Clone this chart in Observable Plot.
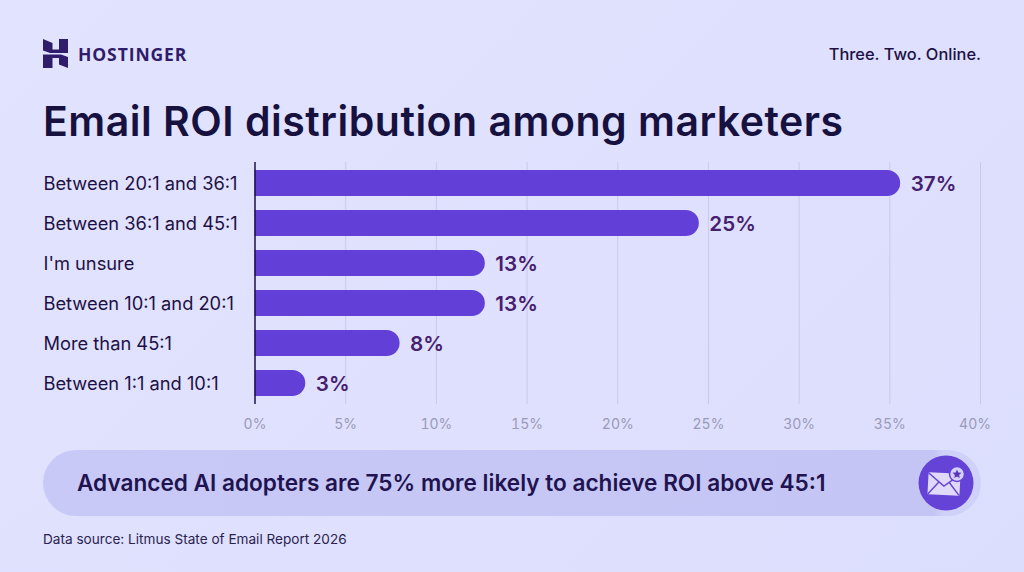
<!DOCTYPE html>
<html><head><meta charset="utf-8">
<script src="https://cdn.jsdelivr.net/npm/d3@7"></script>
<script src="https://cdn.jsdelivr.net/npm/@observablehq/plot@0.6"></script>
<style>
html,body{margin:0;padding:0}
#page{position:relative;width:1024px;height:572px;overflow:hidden;background:linear-gradient(135deg,#e2e3fe,#dcdefd);font-family:Inter,sans-serif;color:#1d1145}
#page>*{position:absolute}
#brand{left:78px;top:42px;font:700 17.5px/24px "Open Sans",sans-serif;letter-spacing:.9px;color:#2f1c6a}
#tag{right:43px;top:44px;font:500 16.4px/20px Inter,sans-serif;color:#1d1145}
#title{left:43px;top:96px;font:600 41px/50px Inter,sans-serif;color:#17113f;letter-spacing:.5px;margin:0;white-space:nowrap}
#chart{left:0;top:150px}
#pill{left:43px;top:450px;width:938px;height:66px;border-radius:33px;background:linear-gradient(90deg,#c8c9f6 0,#c4c5f4 95%,#d0d1f8 96%)}
#pilltext{left:77px;top:469px;font:600 22.6px/28px Inter,sans-serif;color:#21134f;white-space:nowrap}
#source{left:43px;top:530px;font:400 13.6px/18px Inter,sans-serif;color:#2a2350;white-space:nowrap}
#logo{left:43px;top:39px}
#mail{left:918px;top:455px}
</style></head><body>
<div id="page">
<svg id="logo" width="25" height="29" viewBox="0 0 25 29"><path fill="#2f1c6a" d="M0 0l9.5 4v6.5H16V0h9v14H7L0 11.5zM25 29l-9-3.5V19H9.5v10H0V15.5h18l7 2.5z"/></svg>
<div id="brand">HOSTINGER</div>
<div id="tag">Three. Two. Online.</div>
<h1 id="title">Email ROI distribution among marketers</h1>
<div id="chart"></div>
<div id="pill"></div>
<div id="pilltext">Advanced AI adopters are 75% more likely to achieve ROI above 45:1</div>
<svg id="mail" width="56" height="56" viewBox="0 0 56 56">
<circle cx="28" cy="28" r="27.5" fill="#6443d6"/>
<g transform="rotate(3 26 29)">
<rect x="10" y="18" width="32" height="22" rx="1" fill="#e0d9fc"/>
<path d="M10 18.5L26 31L42 18.5M10.5 39.5L21 27M41.5 39.5L31 27" fill="none" stroke="#6443d6" stroke-width="1.4"/>
</g>
<circle cx="39" cy="19" r="7.5" fill="#d6cffa" stroke="#6443d6" stroke-width="1.5"/>
<path d="M39 14.5l1.3 3 3.2.3-2.4 2.1.7 3.1-2.8-1.6-2.8 1.6.7-3.1-2.4-2.1 3.2-.3z" fill="#5a35b8"/>
</svg>
<div id="source">Data source: Litmus State of Email Report 2026</div>
</div>
<script>
const categories = ["Between 20:1 and 36:1","Between 36:1 and 45:1","I'm unsure","Between 10:1 and 20:1","More than 45:1","Between 1:1 and 10:1"];
const barLengths = [35.6,24.5,12.7,12.7,8,2.8];
const valueLabels = ["37%","25%","13%","13%","8%","3%"];
const xTicks = [0,5,10,15,20,25,30,35,40];
const rows = categories.map((c,i)=>({c,v:barLengths[i],l:valueLabels[i]}));
const tickStyle = {anchor:"bottom",tickSize:0,tickPadding:15,label:null,tickFormat:d=>d+"%",fontSize:14,fontFamily:"Inter",color:"#9a9ab8"};
const chart = Plot.plot({
  width:1024,height:290,marginLeft:43,marginRight:44,marginTop:12,marginBottom:36,
  style:{background:"transparent",overflow:"visible"},
  x:{domain:[0,40],range:[254.5,980],axis:null},
  y:{domain:categories,paddingInner:0.35,paddingOuter:0.175,axis:null},
  marks:[
    Plot.ruleX(xTicks.slice(1),{stroke:"#c9cae8",strokeWidth:1}),
    Plot.barX(rows,{x:"v",y:"c",fill:"#6240d8",rx2:13}),
    Plot.ruleX([0],{stroke:"#1d1145",strokeWidth:1.5}),
    Plot.text(rows,{y:"c",text:"c",dy:1,frameAnchor:"left",textAnchor:"start",fill:"#1d1145",fontSize:18.3,fontFamily:"Inter"}),
    Plot.text(rows,{x:"v",y:"c",text:"l",dy:1,textAnchor:"start",dx:10,fill:"#45206f",fontSize:20.6,fontWeight:600,fontFamily:"Inter"}),
    Plot.axisX(xTicks.slice(0,-1),tickStyle),
    Plot.axisX(xTicks.slice(-1),{...tickStyle,dx:-5.5})
  ]
});
document.getElementById("chart").append(chart);
</script>
</body></html>
